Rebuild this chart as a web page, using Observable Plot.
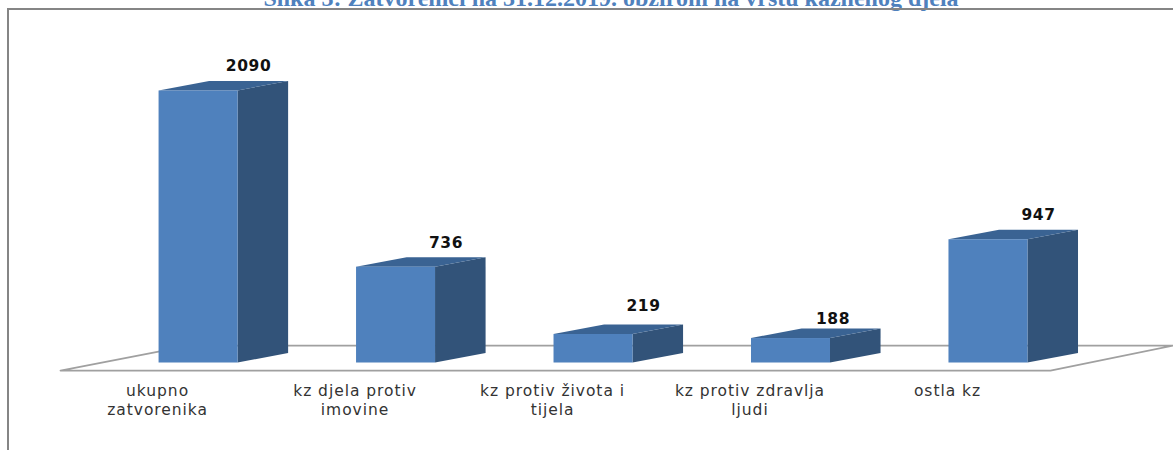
<!DOCTYPE html>
<html>
<head>
<meta charset="utf-8">
<script src="https://cdn.jsdelivr.net/npm/d3@7"></script>
<script src="https://cdn.jsdelivr.net/npm/@observablehq/plot@0.6"></script>
<style>
  html, body { margin: 0; padding: 0; background: #fff; overflow: hidden; }
  #page { position: relative; width: 1173px; height: 450px; overflow: hidden; }
  #title { position: absolute; left: 200px; top: -16px; width: 822px; white-space: nowrap; text-align: center;
           font: bold 24px "Liberation Serif", serif; line-height: 28px; color: #4f81bd; }
  #frame { position: absolute; left: 7px; top: 8px; right: -6px; bottom: -6px; border: 2px solid #858585; }
  #chart { position: absolute; left: 0; top: 0; }
  #chart svg { background: transparent; }
  #chart g[aria-label="x-axis tick label"] text { letter-spacing: 0.95px; }
  #chart g[aria-label="text"] text { letter-spacing: 0.6px; }
</style>
</head>
<body>
<div id="page">
  <div id="title">Slika 3: Zatvorenici na 31.12.2019. obzirom na vrstu kaznenog djela</div>
  <div id="frame"></div>
  <div id="chart"></div>
</div>
<script>
const categories = ["ukupno\nzatvorenika", "kz djela protiv\nimovine", "kz protiv života i\ntijela", "kz protiv zdravlja\nljudi", "ostla kz"];
const values = [2090, 736, 219, 188, 947];

const floorX = [-0.699, 4.314, 4.937, -0.046, -0.699];
const floorY = [-58, -58, 134, 134, -58];

const halfWidth = 0.2, depthX = 0.256, depthY = 73;

const bars = values.map((value, i) => ({i, value}));
const sides = bars.flatMap(d => [
  {i: d.i, x: d.i + halfWidth, y1: 0, y2: d.value},
  {i: d.i, x: d.i + halfWidth + depthX, y1: depthY, y2: d.value + depthY}
]);
const tops = bars.flatMap(d => [
  {i: d.i, y: d.value, x1: d.i - halfWidth, x2: d.i + halfWidth},
  {i: d.i, y: d.value + depthY, x1: d.i - halfWidth + depthX, x2: d.i + halfWidth + depthX}
]);
const floor = floorX.map((x, k) => ({x, y: floorY[k]}));

const faceMarks = bars.flatMap(d => [
  Plot.areaY(sides.filter(s => s.i === d.i), {x: "x", y1: "y1", y2: "y2", fill: "#325379"}),
  Plot.areaX(tops.filter(s => s.i === d.i), {y: "y", x1: "x1", x2: "x2", fill: "#3a6393"}),
  Plot.rect([d], {x1: r => r.i - halfWidth, x2: r => r.i + halfWidth, y1: 0, y2: "value", fill: "#4f81bd"})
]);

const labelFont = {fontFamily: "DejaVu Sans", fontSize: 15.5, fontWeight: "bold", fill: "#111", lineAnchor: "bottom"};
const valueLabel = (rows, dx, dy) => Plot.text(rows, {x: "i", y: d => d.value + depthY, text: d => String(d.value), dx, dy, ...labelFont});

const chart = Plot.plot({
  width: 1173,
  height: 450,
  marginTop: 0, marginRight: 0, marginBottom: 75, marginLeft: 0,
  style: {background: "transparent"},
  x: {domain: [-1.003, 4.937], range: [0, 1173]},
  y: {domain: [-96, 2785], range: [375, 0], axis: null},
  marks: [
    Plot.line(floor, {x: "x", y: "y", stroke: "#a0a0a0", strokeWidth: 1.8}),
    ...faceMarks,
    Plot.axisX({
      ticks: categories.map((c, i) => i),
      tickFormat: i => categories[i],
      tickSize: 0,
      tickPadding: 7,
      label: null,
      dx: -41,
      fontFamily: "DejaVu Sans",
      fontSize: 15.5,
      lineHeight: 1.23,
      fill: "#333"
    }),
    valueLabel(bars.filter(d => d.value > 219 ), 50, -10),
    valueLabel(bars.filter(d => d.value === 219), 50, -13.5),
    valueLabel(bars.filter(d => d.value === 188), 42, -5)
  ]
});
document.getElementById("chart").appendChild(chart);
</script>
</body>
</html>
